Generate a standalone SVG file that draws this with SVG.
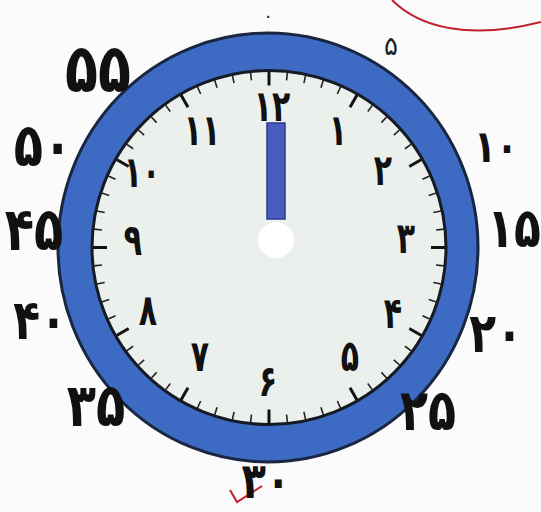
<svg xmlns="http://www.w3.org/2000/svg" xmlns:xlink="http://www.w3.org/1999/xlink" width="541" height="512" viewBox="0 0 541 512">
<style>
.hr{font-family:"DejaVu Sans",sans-serif;font-weight:bold;font-size:30px;fill:#111;text-anchor:middle;dominant-baseline:central;transform-box:fill-box;transform-origin:center;transform:scaleY(1.45)}
.mn{font-family:"DejaVu Sans",sans-serif;font-weight:bold;font-size:40px;fill:#111;text-anchor:middle;dominant-baseline:central;transform-box:fill-box;transform-origin:center;transform:scaleY(1.25)}
.sm{font-family:"DejaVu Sans",sans-serif;font-size:18px;fill:#222;text-anchor:middle;dominant-baseline:central}
.tk{stroke:#222;stroke-width:1.6}
.tkb{stroke:#111;stroke-width:3}
.red{fill:none;stroke:#c0202a;stroke-width:2}
</style>
<defs>
<line id="mt" class="tk" x1="0" y1="-176" x2="0" y2="-168"/>
<line id="ht" class="tkb" x1="0" y1="-176" x2="0" y2="-162"/>
</defs>
<rect width="541" height="512" fill="#fbfbfb"/>
<g id="annotations">
<path class="red" d="M392,0 C420,28 470,40 541,22"/>
<path class="red" d="M230,490 L237,502 L262,486"/>
</g>
<g id="clock">
<ellipse cx="268" cy="247.5" rx="210" ry="214.5" fill="#3d6bc4" stroke="#1a2540" stroke-width="3"/>
<circle cx="269" cy="247.5" r="177" fill="#ebf0ec" stroke="#151a24" stroke-width="3"/>
<g id="ticks" transform="translate(269,247.5)">
<use href="#ht" transform="rotate(0)"/><use href="#mt" transform="rotate(6)"/><use href="#mt" transform="rotate(12)"/><use href="#mt" transform="rotate(18)"/><use href="#mt" transform="rotate(24)"/>
<use href="#ht" transform="rotate(30)"/><use href="#mt" transform="rotate(36)"/><use href="#mt" transform="rotate(42)"/><use href="#mt" transform="rotate(48)"/><use href="#mt" transform="rotate(54)"/>
<use href="#ht" transform="rotate(60)"/><use href="#mt" transform="rotate(66)"/><use href="#mt" transform="rotate(72)"/><use href="#mt" transform="rotate(78)"/><use href="#mt" transform="rotate(84)"/>
<use href="#ht" transform="rotate(90)"/><use href="#mt" transform="rotate(96)"/><use href="#mt" transform="rotate(102)"/><use href="#mt" transform="rotate(108)"/><use href="#mt" transform="rotate(114)"/>
<use href="#ht" transform="rotate(120)"/><use href="#mt" transform="rotate(126)"/><use href="#mt" transform="rotate(132)"/><use href="#mt" transform="rotate(138)"/><use href="#mt" transform="rotate(144)"/>
<use href="#ht" transform="rotate(150)"/><use href="#mt" transform="rotate(156)"/><use href="#mt" transform="rotate(162)"/><use href="#mt" transform="rotate(168)"/><use href="#mt" transform="rotate(174)"/>
<use href="#ht" transform="rotate(180)"/><use href="#mt" transform="rotate(186)"/><use href="#mt" transform="rotate(192)"/><use href="#mt" transform="rotate(198)"/><use href="#mt" transform="rotate(204)"/>
<use href="#ht" transform="rotate(210)"/><use href="#mt" transform="rotate(216)"/><use href="#mt" transform="rotate(222)"/><use href="#mt" transform="rotate(228)"/><use href="#mt" transform="rotate(234)"/>
<use href="#ht" transform="rotate(240)"/><use href="#mt" transform="rotate(246)"/><use href="#mt" transform="rotate(252)"/><use href="#mt" transform="rotate(258)"/><use href="#mt" transform="rotate(264)"/>
<use href="#ht" transform="rotate(270)"/><use href="#mt" transform="rotate(276)"/><use href="#mt" transform="rotate(282)"/><use href="#mt" transform="rotate(288)"/><use href="#mt" transform="rotate(294)"/>
<use href="#ht" transform="rotate(300)"/><use href="#mt" transform="rotate(306)"/><use href="#mt" transform="rotate(312)"/><use href="#mt" transform="rotate(318)"/><use href="#mt" transform="rotate(324)"/>
<use href="#ht" transform="rotate(330)"/><use href="#mt" transform="rotate(336)"/><use href="#mt" transform="rotate(342)"/><use href="#mt" transform="rotate(348)"/><use href="#mt" transform="rotate(354)"/>
</g>
<g id="hour-numbers">
<text class="hr" x="272" y="106">۱۲</text>
<text class="hr" x="338" y="130">۱</text>
<text class="hr" x="383" y="170">۲</text>
<text class="hr" x="406" y="238">۳</text>
<text class="hr" x="393" y="313">۴</text>
<text class="hr" x="350" y="356">۵</text>
<text class="hr" x="268" y="381">۶</text>
<text class="hr" x="200" y="356">۷</text>
<text class="hr" x="148" y="310">۸</text>
<text class="hr" x="133" y="240">۹</text>
<text class="hr" x="142" y="172">۱۰</text>
<text class="hr" x="202" y="130">۱۱</text>
</g>
<g id="hand">
<rect x="267" y="123" width="18" height="96" fill="#4b5cc0" stroke="#2b3790" stroke-width="1.5"/>
<circle cx="276" cy="240" r="18" fill="#ffffff"/>
</g>
</g>
<g id="minute-labels">
<text class="sm" x="268" y="15">۰</text>
<text class="sm" x="391" y="46" style="font-size:26px">۵</text>
<text class="mn" x="496" y="147" style="font-size:36px">۱۰</text>
<text class="mn" x="514" y="228" style="font-size:44px">۱۵</text>
<text class="mn" x="496" y="333" style="font-size:44px">۲۰</text>
<text class="mn" x="428" y="410" style="font-size:46px">۲۵</text>
<text class="mn" x="266" y="481" style="font-size:40px">۳۰</text>
<text class="mn" x="96" y="406" style="font-size:48px">۳۵</text>
<text class="mn" x="40" y="320" style="font-size:44px">۴۰</text>
<text class="mn" x="34" y="230" style="font-size:48px">۴۵</text>
<text class="mn" x="43" y="146" style="font-size:48px">۵۰</text>
<text class="mn" x="98" y="68" style="font-size:54px">۵۵</text>
</g>
</svg>
